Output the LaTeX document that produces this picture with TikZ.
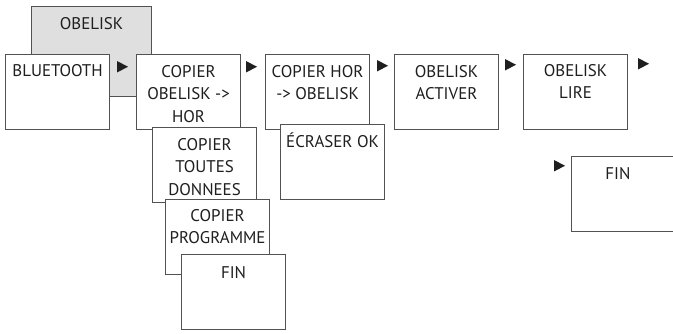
\documentclass[tikz,border=0pt]{standalone}
\usepackage{fontspec}
\setmainfont{PT Sans}
\begin{document}
\begin{tikzpicture}[x=1pt,y=-1pt,
  box/.style={draw=black!68, line width=1.1pt, fill=white, inner sep=0pt,
    minimum width=104pt, minimum height=75pt, anchor=north west},
  graybox/.style={box, fill=gray!25, minimum width=120pt, minimum height=90pt},
  txt/.style={inner sep=0pt, anchor=north, align=center, text=black!88,
    font=\fontsize{16.9}{22.5}\selectfont},
  tri/.pic={\fill[black!88] (0,0) -- (0,11.5) -- (11,5.75) -- cycle;}]
\clip (0,0) rectangle (673,333);
% grey parent
\node[graybox] (obl) at (31,6) {};
\node[txt] (obl-t) at ([yshift=-11pt]obl.north) {OBELISK};
% top row
\node[box] (bt) at (5,54) {};
\node[txt] (bt-t) at ([yshift=-10pt]bt.north) {BLUETOOTH};
\node[box] (cob) at (136,54) {};
\node[txt] (cob-t) at ([yshift=-11pt]cob.north) {COPIER\\OBELISK ->\\HOR};
\node[box] (ctd) at (152,127) {};
\node[txt] (ctd-t) at ([yshift=-11pt]ctd.north) {COPIER\\TOUTES\\DONNEES};
\node[box] (cpr) at (165,199) {};
\node[txt] (cpr-t) at ([yshift=-10pt]cpr.north) {COPIER\\PROGRAMME};
\node[box] (fina) at (181,254) {};
\node[txt] (fina-t) at ([yshift=-12pt]fina.north) {FIN};
\node[box] (chor) at (265,54) {};
\node[txt] (chor-t) at ([yshift=-11pt]chor.north) {COPIER HOR\\-> OBELISK};
\node[box] (ecr) at (280,124) {};
\node[txt, anchor=base] (ecr-t) at ([yshift=-23.5pt]ecr.north) {ÉCRASER OK};
\node[box] (act) at (394,54) {};
\node[txt] (act-t) at ([yshift=-11pt]act.north) {OBELISK\\ACTIVER};
\node[box] (lire) at (523,54) {};
\node[txt] (lire-t) at ([yshift=-10pt]lire.north) {OBELISK\\LIRE};
\node[box, minimum width=120pt] (finb) at (571,156) {};
\node[txt] (finb-t) at (618,167) {FIN};
% arrow marks
\pic at (117,61) {tri};
\pic at (246,61) {tri};
\pic at (377,60) {tri};
\pic at (505,59) {tri};
\pic at (638,58) {tri};
\pic at (554,160) {tri};
\end{tikzpicture}
\end{document}
